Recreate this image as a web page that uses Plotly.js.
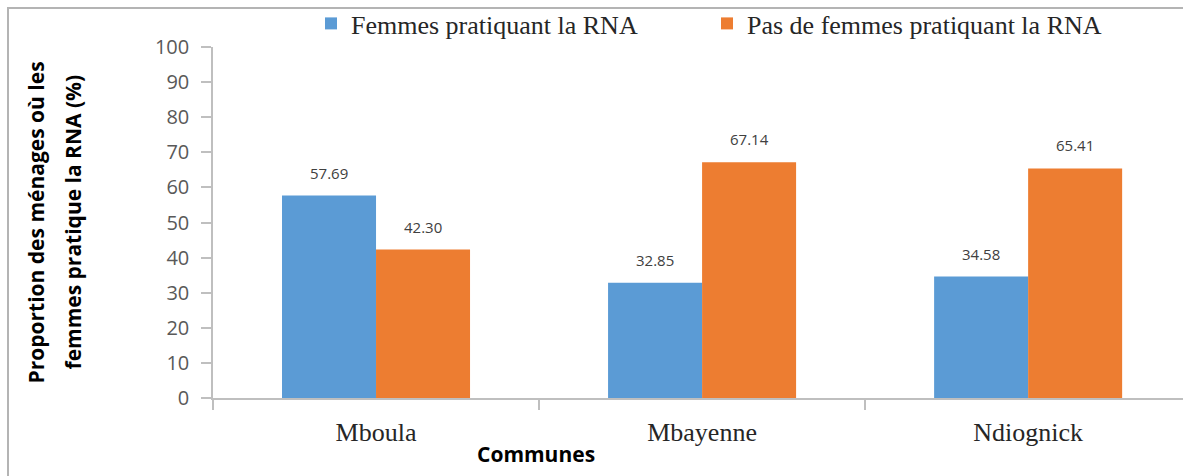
<!DOCTYPE html>
<html>
<head>
<meta charset="utf-8">
<script src="https://cdn.plot.ly/plotly-3.0.1.min.js"></script>
<style>
  html, body { margin: 0; padding: 0; background: #ffffff; overflow: hidden; }
  #wrap { position: relative; width: 1183px; height: 476px; }
  #chart { position: absolute; left: 0; top: 0; width: 1183px; height: 476px; }
  #frame { position: absolute; left: 7px; top: 7px; width: 1176px; height: 469px;
           border-top: 2px solid #b4b4b4; border-left: 2px solid #b4b4b4; pointer-events: none; }
</style>
</head>
<body>
<div id="wrap">
  <div id="chart"></div>
  <div id="frame"></div>
</div>
<script>
// ---- data ----
const communes = ["Mboula", "Mbayenne", "Ndiognick"];
const seriesNames = ["Femmes pratiquant la RNA", "Pas de femmes pratiquant la RNA"];
const femmesRNA = [57.69, 32.85, 34.58];
const pasFemmesRNA = [42.30, 67.14, 65.41];
const yTicks = [0, 10, 20, 30, 40, 50, 60, 70, 80, 90, 100];
const yTitleLines = ["Proportion des ménages où les", "femmes pratique la RNA (%)"];
const xTitle = "Communes";

// ---- styles ----
const colors = ["#5B9BD5", "#ED7D31"];
const axisGray = "#bfbfbf";

const traces = [
  { type: "bar", name: seriesNames[0], x: communes, y: femmesRNA,
    marker: { color: colors[0] }, hoverinfo: "x+y" },
  { type: "bar", name: seriesNames[1], x: communes, y: pasFemmesRNA,
    marker: { color: colors[1] }, hoverinfo: "x+y" }
];

const annotations = [];
const seriesVals = [femmesRNA, pasFemmesRNA];
const barHalf = 47;
seriesVals.forEach((vals, si) => {
  vals.forEach((v, i) => {
    annotations.push({
      x: communes[i], y: v, xref: "x", yref: "y",
      text: v.toFixed(2), showarrow: false,
      xshift: si === 0 ? -barHalf : barHalf, yshift: 23,
      xanchor: "center", yanchor: "middle",
      font: { family: "Open Sans", size: 15, color: "#404040" }
    });
  });
});
// y-axis title (two lines, wide spacing)
[-178, -141].forEach((sh, k) => {
  annotations.push({
    x: 0, y: 0.5, xref: "paper", yref: "paper", textangle: -90,
    text: yTitleLines[k], showarrow: false, xshift: sh,
    xanchor: "center", yanchor: "middle",
    font: { family: "Open Sans", size: 21, color: "#000000", weight: "bold" }
  });
});
// x-axis title
annotations.push({
  x: 0.333, y: 0, xref: "paper", yref: "paper", yshift: -56,
  text: xTitle, showarrow: false, xanchor: "center", yanchor: "middle",
  font: { family: "Open Sans", size: 21, color: "#000000", weight: "bold" }
});

const layout = {
  width: 1183, height: 476,
  margin: { l: 213, r: 0, t: 23, b: 78 },
  paper_bgcolor: "rgba(0,0,0,0)",
  plot_bgcolor: "rgba(0,0,0,0)",
  barmode: "group",
  bargap: 0.4233,
  bargroupgap: 0,
  showlegend: true,
  legend: {
    orientation: "h", xref: "container", yref: "container",
    x: 311 / 1183, xanchor: "left", y: 1, yanchor: "top",
    entrywidth: 351, entrywidthmode: "pixels",
    font: { family: "Liberation Serif", size: 26, color: "#262626" },
    bgcolor: "rgba(0,0,0,0)", itemclick: false, itemdoubleclick: false
  },
  xaxis: {
    type: "category",
    range: [-0.5, 2.475],
    showline: true, linecolor: axisGray, linewidth: 1.5,
    ticks: "outside", tickson: "boundaries", ticklen: 10, tickcolor: axisGray, tickwidth: 1.5,
    tickfont: { family: "Liberation Serif", size: 26, color: "#262626" },
    ticklabelstandoff: 10,
    showgrid: false, zeroline: false, fixedrange: true
  },
  yaxis: {
    range: [0, 100],
    tickvals: yTicks, ticktext: yTicks.map(String),
    showline: true, linecolor: axisGray, linewidth: 1.5,
    ticks: "outside", ticklen: 10, tickcolor: axisGray, tickwidth: 1.5,
    tickfont: { family: "Open Sans", size: 20, color: "#595959" },
    ticklabelstandoff: 8,
    showgrid: false, zeroline: false, fixedrange: true
  },
  annotations: annotations
};

Plotly.newPlot("chart", traces, layout, { displayModeBar: false, staticPlot: false });
</script>
</body>
</html>
